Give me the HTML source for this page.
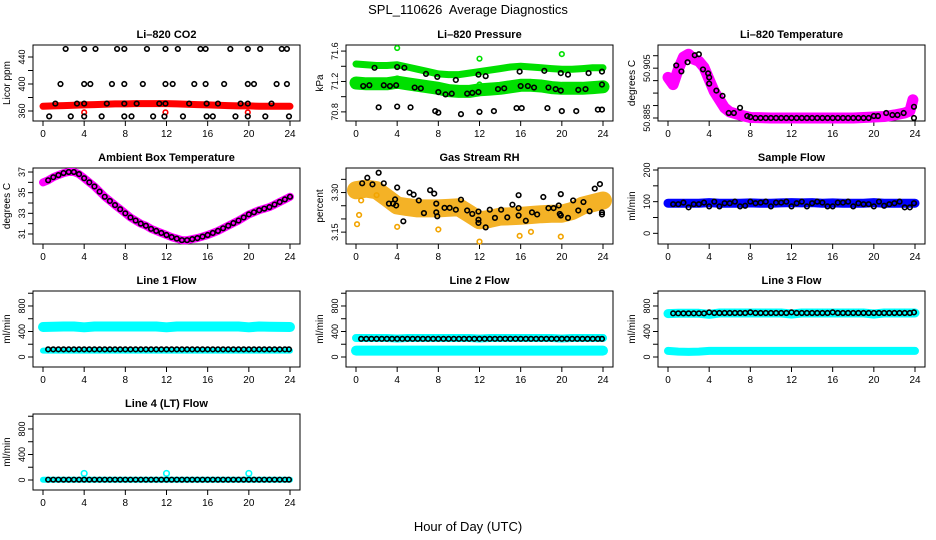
<!DOCTYPE html>
<html><head><meta charset="utf-8"><style>
html,body{margin:0;padding:0;background:#fff}
svg{display:block;font-family:"Liberation Sans",sans-serif}
</style></head><body>
<svg id="c" width="936" height="540" viewBox="0 0 936 540">
<text x="468" y="14" text-anchor="middle" font-size="13">SPL_110626&#160; Average Diagnostics</text>
<text x="468" y="531" text-anchor="middle" font-size="13">Hour of Day (UTC)</text>
</svg>
<script>
// ---- data ----
const hourly = [0,1,2,3,4,5,6,7,8,9,10,11,12,13,14,15,16,17,18,19,20,21,22,23,24];
const halfHours = [0,0.5,1,1.5,2,2.5,3,3.5,4,4.5,5,5.5,6,6.5,7,7.5,8,8.5,9,9.5,10,10.5,11,11.5,12,12.5,13,13.5,14,14.5,15,15.5,16,16.5,17,17.5,18,18.5,19,19.5,20,20.5,21,21.5,22,22.5,23,23.5,24];
const blackH = [0.5,1,1.5,2,2.5,3,3.5,4,4.5,5,5.5,6,6.5,7,7.5,8,8.5,9,9.5,10,10.5,11,11.5,12,12.5,13,13.5,14,14.5,15,15.5,16,16.5,17,17.5,18,18.5,19,19.5,20,20.5,21,21.5,22,22.5,23,23.5,23.9];

const co2Band = [367,367.5,368,368.5,369,369.5,370,370.5,370.5,371,371,371,371,370.5,370,369.5,369,368.5,368,367.5,367.5,367,367,367,367];
const co2BlackH = [2.2,4.0,5.1,7.2,7.9,10.1,11.9,13.1,15.3,15.8,18.2,19.9,21.1,23.2,23.7, 1.7,4.0,4.6,6.7,7.9,9.7,11.9,12.6,14.7,15.8,17.6,19.9,20.5,22.7,23.7, 1.2,3.3,4.0,6.2,7.9,9.1,11.3,11.9,14.2,15.9,17.0,19.2,19.9,22.2, 0.6,2.7,4.0,5.7,7.9,8.6,10.7,11.8,13.6,15.9,16.5,18.7,19.9,21.6,23.9];
const co2BlackV = [452,452,452,452,452,452,452,452,452,452,452,452,452,452,452, 400,400,400,400,400,400,400,400,400,400,400,400,400,400,400, 371,371,371,371,371,371,371,371,371,371,371,371,371,371, 352,352,352,352,352,352,352,352,352,352,352,352,352,352,352];
const co2OutH = [4.0,11.9,19.9];
const co2OutV = [358,358,358];

const presUpper = [71.43,71.42,71.41,71.41,71.42,71.39,71.36,71.33,71.30,71.29,71.29,71.31,71.33,71.35,71.37,71.39,71.40,71.39,71.38,71.37,71.36,71.36,71.37,71.38,71.38];
const presLower = [71.18,71.17,71.17,71.17,71.19,71.17,71.15,71.13,71.11,71.08,71.07,71.07,71.09,71.10,71.11,71.13,71.15,71.15,71.14,71.12,71.11,71.11,71.11,71.12,71.13];
const presBlackH = [1.8,4.0,4.7,6.8,7.9,9.7,11.9,12.6,15.9,18.3,19.9,20.6,22.6,23.9, 0.7,1.3,2.7,3.3,3.9,5.7,6.3,8.0,8.7,9.3,10.8,11.3,11.9,13.8,14.4,16.0,16.7,17.3,18.7,19.4,19.9,21.6,22.3,23.9, 2.2,4.0,5.3,7.7,8.0,10.2,12.0,13.4,15.6,16.1,18.6,20.0,21.4,23.5,23.9];
const presBlackV = [71.38,71.39,71.38,71.30,71.26,71.22,71.29,71.27,71.33,71.34,71.31,71.29,71.31,71.33, 71.14,71.15,71.15,71.14,71.15,71.12,71.11,71.06,71.03,71.04,71.04,71.05,71.06,71.10,71.11,71.14,71.14,71.12,71.12,71.10,71.08,71.09,71.10,71.16, 70.86,70.87,70.86,70.81,70.79,70.77,70.80,70.81,70.85,70.85,70.85,70.81,70.81,70.83,70.83];
const presOutH = [4.0,12.0,20.0,0.0,4.0,12.0];
const presOutV = [71.64,71.50,71.56,71.19,71.24,71.16];

const tempH = [0,0.5,1,1.5,2,2.5,3,3.5,4,4.5,5,5.5,6,7,8,10,12,14,16,18,20,21,22,23,23.5,23.8];
const tempV = [50.9013,50.8984,50.9045,50.9094,50.9106,50.9086,50.9078,50.9053,50.9004,50.8956,50.8923,50.8891,50.8874,50.8862,50.8852,50.885,50.885,50.885,50.885,50.885,50.8854,50.8856,50.8862,50.887,50.8878,50.8923];
const tempBlackH = [0.8,1.3,1.9,2.6,3.0,3.4,3.9,4.0,4.0,4.7,5.3,5.9,6.4,7.0,7.7,8.0,8.5,9,9.5,10,10.5,11,11.5,12,12.5,13,13.5,14,14.5,15,15.5,16,16.5,17,17.5,18,18.5,19,19.5,20.0,20.4,21.2,21.8,22.3,22.9,23.9,23.9];
const tempBlackV = [50.9061,50.9037,50.9074,50.9102,50.9106,50.9045,50.9029,50.9013,50.8988,50.8960,50.8939,50.8870,50.8870,50.8891,50.8858,50.8854,50.885,50.885,50.885,50.885,50.885,50.885,50.885,50.885,50.885,50.885,50.885,50.885,50.885,50.885,50.885,50.885,50.885,50.885,50.885,50.885,50.885,50.885,50.885,50.8858,50.8858,50.8870,50.8862,50.8862,50.8870,50.8895,50.885];

const ambV = [36.0,36.2,36.5,36.7,36.9,37.0,37.0,36.8,36.4,36.0,35.6,35.1,34.6,34.2,33.8,33.4,33.0,32.6,32.3,32.0,31.8,31.5,31.3,31.1,30.9,30.7,30.55,30.4,30.4,30.5,30.6,30.75,30.9,31.1,31.3,31.55,31.8,32.05,32.3,32.6,32.9,33.1,33.3,33.45,33.6,33.85,34.1,34.35,34.6];

const rhBand = [3.309,3.315,3.309,3.28,3.251,3.245,3.24,3.24,3.24,3.242,3.244,3.22,3.195,3.20,3.209,3.21,3.212,3.215,3.218,3.22,3.22,3.23,3.25,3.26,3.27];
const rhBlackH = [0.6,1.1,1.6,2.2,2.7,3.2,3.6,3.8,3.9,4.0,4.6,5.2,5.6,6.1,6.6,7.2,7.6,7.8,7.9,7.8,8.6,9.1,9.7,10.2,10.8,11.3,11.9,11.9,11.9,12.6,13.0,13.5,14.1,14.7,15.2,15.8,15.8,15.8,16.5,17.1,17.6,18.2,18.7,19.2,19.7,19.8,19.9,19.9,20.6,21.1,21.6,22.1,22.7,23.2,23.7,23.9,23.9];
const rhBlackV = [3.335,3.356,3.331,3.375,3.335,3.258,3.258,3.274,3.251,3.319,3.191,3.30,3.292,3.27,3.222,3.309,3.296,3.225,3.21,3.258,3.242,3.242,3.235,3.273,3.232,3.219,3.228,3.197,3.185,3.168,3.235,3.204,3.235,3.206,3.254,3.29,3.241,3.213,3.193,3.225,3.217,3.283,3.241,3.241,3.251,3.219,3.213,3.294,3.204,3.27,3.232,3.264,3.229,3.315,3.332,3.225,3.217];
const rhOutH = [0.1,0.3,12.0,15.9,17.0,19.9,0.5,2.0,4.0,8.0];
const rhOutV = [3.18,3.215,3.114,3.136,3.151,3.133,3.27,3.29,3.17,3.16];

const sfBand = [95,95,95,95,97,95,95,95,96,95,95,96,97,96,97,95,96,95,95,95,97,95,95,95,95];
const sfBlack = [92,92,97,82,92,92,97,85,100,85,95,95,100,85,87,100,95,97,100,85,97,97,100,85,95,100,85,95,100,97,85,85,97,97,100,85,95,92,92,85,100,87,92,95,100,82,82,95];

const l1Upper = [470,475,478,478,465,478,478,478,478,478,478,478,465,478,478,478,478,478,478,478,465,478,475,472,470];
const l1Lower = [100,100,100,100,100,100,100,100,100,100,100,100,100,100,100,100,100,100,100,100,100,100,100,100,100];
const l1Black = [120,120,120,120,120,120,120,120,120,120,120,120,120,120,120,120,120,120,120,120,120,120,120,120,120,120,120,120,120,120,120,120,120,120,120,120,120,120,120,120,120,120,120,120,120,120,120,120];
const l2Upper = [298,298,298,298,290,298,298,298,298,298,298,298,290,298,298,298,298,298,298,298,290,298,298,298,298];
const l2Lower = [100,100,100,100,100,100,100,100,100,100,100,100,100,100,100,100,100,100,100,100,100,100,100,100,100];
const l2Black = [285,285,285,285,285,285,285,285,285,285,285,285,285,285,285,285,285,285,285,285,285,285,285,285,285,285,285,285,285,285,285,285,285,285,285,285,285,285,285,285,285,285,285,285,285,285,285,285];
const l3Upper = [680,685,685,685,670,690,690,690,690,690,690,690,675,690,690,690,690,690,690,690,675,690,690,690,690];
const l3Lower = [95,85,80,85,95,95,95,95,95,95,95,95,95,95,95,95,95,95,95,95,95,95,95,95,95];
const l3Black = [685,685,685,685,685,685,685,700,690,690,690,690,690,690,690,700,690,690,690,690,690,690,690,700,690,690,690,690,690,690,690,700,690,690,690,690,690,690,690,690,690,690,690,690,690,690,690,700];
const l4Band = [5,5,5,5,5,5,5,5,5,5,5,5,5,5,5,5,5,5,5,5,5,5,5,5,5];
const l4Black = [5,5,5,5,5,5,5,5,5,5,5,5,5,5,5,5,5,5,5,5,5,5,5,5,5,5,5,5,5,5,5,5,5,5,5,5,5,5,5,5,5,5,5,5,5,5,5,5];
const l4OutH = [4.0,12.0,20.0];
const l4OutV = [103,103,103];

const xTicks = [0,4,8,12,16,20,24];
const flowTicks = [0,200,400,600,800,1000];
const flowLabels = ["0","","400","","800",""];

// ---- drawing ----
const svg = document.getElementById('c');
const NS = 'http://www.w3.org/2000/svg';
const colL = [33,346,658];
const rowT = [45,168,291,414];
const W = 267, H = 76;

function mk(tag, attrs, parent){
  const e = document.createElementNS(NS, tag);
  for (const k in attrs) e.setAttribute(k, attrs[k]);
  (parent||svg).appendChild(e);
  return e;
}

function panel(col, row, title, ylab, ylim, yticks, ylabels, name){
  const L = colL[col], T = rowT[row];
  const g = mk('g', {});
  
  
  const xs = h => L + 10 + h / 24 * 247;
  const ys = v => T + (ylim[1] - v) / (ylim[1] - ylim[0]) * H;
  const t = mk('text', {x: L + W/2, y: T - 7, 'text-anchor':'middle', 'font-size':11, 'font-weight':'bold'}, g);
  t.textContent = title;
  
  
  const box = mk('rect', {x:L, y:T, width:W, height:H, fill:'none', stroke:'#000', 'stroke-width':1}, g);
  
  
  const xa = mk('g', {}, g);
  
  
  mk('line', {x1:xs(0), x2:xs(24), y1:T+H, y2:T+H, stroke:'#000'}, xa);
  xTicks.forEach(h => {
    mk('line', {x1:xs(h), x2:xs(h), y1:T+H, y2:T+H+5, stroke:'#000'}, xa);
    const lt = mk('text', {x:xs(h), y:T+H+16, 'text-anchor':'middle', 'font-size':10}, xa);
    lt.textContent = h;
  });
  const ya = mk('g', {}, g);
  
  
  mk('line', {x1:L, x2:L, y1:ys(yticks[0]), y2:ys(yticks[yticks.length-1]), stroke:'#000'}, ya);
  yticks.forEach((v,i) => {
    mk('line', {x1:L-5, x2:L, y1:ys(v), y2:ys(v), stroke:'#000'}, ya);
    if (ylabels[i]) {
      const lt = mk('text', {x:0, y:0, 'text-anchor':'middle', 'font-size':9, transform:`translate(${L-8},${ys(v)}) rotate(-90)`}, ya);
      lt.textContent = ylabels[i];
    }
  });
  const yl = mk('text', {x:0, y:0, 'text-anchor':'middle', 'font-size':10, transform:`translate(${L-23},${T+H/2}) rotate(-90)`}, g);
  yl.textContent = ylab;
  
  
  const clip = mk('g', {}, g);
  return {g: clip, xs, ys, name};
}

function band(p, hs, vs, color, width, label, op){
  const pts = hs.map((h,i) => p.xs(h).toFixed(1) + ',' + p.ys(vs[i]).toFixed(1)).join(' ');
  const pl = mk('polyline', {points:pts, fill:'none', stroke:color, 'stroke-width':width, 'stroke-linejoin':'round', 'stroke-linecap':'round', 'stroke-opacity':op||1}, p.g);
  
  
}
function pts(p, hs, vs, color, label, r){
  const gg = mk('g', {}, p.g);
  
  
  hs.forEach((h,i) => {
    mk('circle', {cx:p.xs(h), cy:p.ys(vs[i]), r:r||2.3, fill:'none', stroke:color, 'stroke-width':1.6}, gg);
  });
}

// Row 1
let p = panel(0,0,'Li\u2013820 CO2','Licor ppm',[345.2,457.8],[360,380,400,420,440],['360','','400','','440'],'co2');
band(p, hourly, co2Band, '#ff0000', 7, 'band');
pts(p, co2OutH, co2OutV, '#ff0000', 'outliers');
pts(p, co2BlackH, co2BlackV, '#000', 'averages');

p = panel(1,0,'Li\u2013820 Pressure','kPa',[70.68,71.68],[70.8,71.0,71.2,71.4,71.6],['70.8','','71.2','','71.6'],'pressure');
band(p, hourly, presUpper, '#00e000', 7, 'upper-band');
band(p, hourly, presLower, '#00e000', 13, 'lower-band');
pts(p, presOutH, presOutV, '#00e000', 'outliers');
pts(p, presBlackH, presBlackV, '#000', 'averages');

p = panel(2,0,'Li\u2013820 Temperature','degrees C',[50.8838,50.9143],[50.885,50.89,50.895,50.9,50.905,50.91],['50.885','','','','50.905',''],'li820-temperature');
band(p, tempH, tempV, '#ff00ff', 11, 'band');
pts(p, tempBlackH, tempBlackV, '#000', 'averages');

// Row 2
p = panel(0,1,'Ambient Box Temperature','degrees C',[30.03,37.39],[31,32,33,34,35,36,37],['31','','33','','35','','37'],'ambient-temperature');
band(p, halfHours, ambV, '#ff00ff', 8, 'band');
pts(p, halfHours.slice(1), ambV.slice(1), '#000', 'averages');

p = panel(1,1,'Gas Stream RH','percent',[3.105,3.393],[3.15,3.20,3.25,3.30,3.35],['3.15','','','3.30',''],'gas-stream-rh');
band(p, hourly, rhBand, '#f2a400', 18, 'band', 0.85);
pts(p, rhOutH, rhOutV, '#f2a400', 'outliers');
pts(p, rhBlackH, rhBlackV, '#000', 'averages');

p = panel(2,1,'Sample Flow','ml/min',[-33.7,206.3],[0,50,100,150,200],['0','','100','','200'],'sample-flow');
band(p, hourly, sfBand, '#0000ff', 9, 'band');
pts(p, blackH, sfBlack, '#000', 'averages');

// Row 3
p = panel(0,2,'Line 1 Flow','ml/min',[-157,1035],flowTicks,flowLabels,'line1-flow');
band(p, hourly, l1Upper, '#00ffff', 10, 'upper-band');
band(p, hourly, l1Lower, '#00ffff', 6, 'lower-band');
pts(p, blackH, l1Black, '#000', 'averages');

p = panel(1,2,'Line 2 Flow','ml/min',[-157,1035],flowTicks,flowLabels,'line2-flow');
band(p, hourly, l2Upper, '#00ffff', 8, 'upper-band');
band(p, hourly, l2Lower, '#00ffff', 10, 'lower-band');
pts(p, blackH, l2Black, '#000', 'averages');

p = panel(2,2,'Line 3 Flow','ml/min',[-157,1035],flowTicks,flowLabels,'line3-flow');
band(p, hourly, l3Upper, '#00ffff', 9, 'upper-band');
band(p, hourly, l3Lower, '#00ffff', 8, 'lower-band');
pts(p, blackH, l3Black, '#000', 'averages');

// Row 4
p = panel(0,3,'Line 4 (LT) Flow','ml/min',[-157,1035],flowTicks,flowLabels,'line4-flow');
band(p, hourly, l4Band, '#00ffff', 6, 'band');
pts(p, l4OutH, l4OutV, '#00ffff', 'outliers', 2.8);
pts(p, blackH, l4Black, '#000', 'averages');
</script>
</body></html>
